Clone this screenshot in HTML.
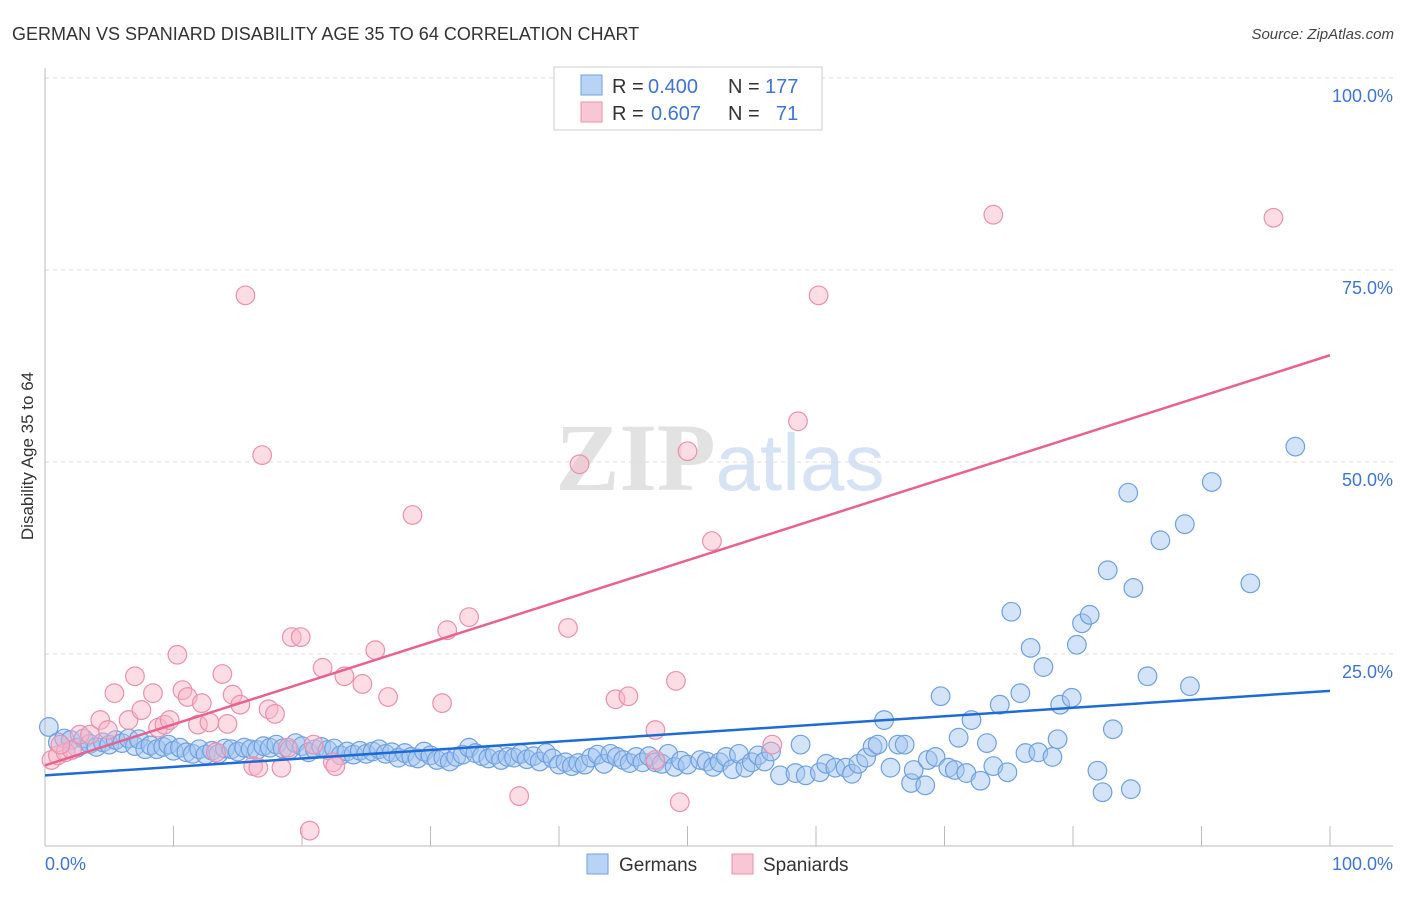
<!DOCTYPE html>
<html><head><meta charset="utf-8"><style>
body{margin:0;background:#fff;font-family:"Liberation Sans",sans-serif;}
</style></head><body>
<svg id="chart" width="1406" height="892" xmlns="http://www.w3.org/2000/svg">
<text x="12" y="40" font-size="18" fill="#333" font-family="Liberation Sans, sans-serif">GERMAN VS SPANIARD DISABILITY AGE 35 TO 64 CORRELATION CHART</text>
<text x="1394" y="39" font-size="15" fill="#444" text-anchor="end" font-style="italic" font-family="Liberation Sans, sans-serif">Source: ZipAtlas.com</text>
<text x="720" y="490" font-size="96" text-anchor="middle" font-family="Liberation Serif, serif"><tspan fill="#e2e2e2" font-weight="bold">ZIP</tspan><tspan fill="#d5e3f5" font-family="Liberation Sans, sans-serif" font-size="80">atlas</tspan></text>
<g id="grid"></g>
<g id="axes"></g>
<g id="pts"></g>
<g id="lines"></g>
<text transform="translate(33,456) rotate(-90)" font-size="17" fill="#333" text-anchor="middle" font-family="Liberation Sans, sans-serif">Disability Age 35 to 64</text>
<g font-size="20" font-family="Liberation Sans, sans-serif">
<rect x="554" y="67" width="268" height="63" fill="#fff" stroke="#ccc"/>
<rect x="581" y="75" width="21" height="20" fill="#b9d3f5" stroke="#6fa0e0"/>
<rect x="581" y="102" width="21" height="20" fill="#f9c6d5" stroke="#eb90ad"/>
<text x="612" y="93" fill="#333">R =</text>
<text x="648" y="93" fill="#3f74d0">0.400</text>
<text x="728" y="93" fill="#333">N =</text>
<text x="765" y="93" fill="#3f74d0">177</text>
<text x="612" y="120" fill="#333">R =</text>
<text x="651" y="120" fill="#3f74d0">0.607</text>
<text x="728" y="120" fill="#333">N =</text>
<text x="776" y="120" fill="#3f74d0">71</text>
</g>
<g>
<rect x="587" y="854" width="21" height="20" fill="#b9d3f5" stroke="#6fa0e0"/>
<text x="619" y="871" font-size="19" fill="#333">Germans</text>
<rect x="732" y="854" width="21" height="20" fill="#f9c6d5" stroke="#eb90ad"/>
<text x="763" y="871" font-size="19" fill="#333">Spaniards</text>
</g>
</svg>
<script>
const yTicks=[100,75,50,25];
const xTickLabels=["0.0%","100.0%"];
const germX=[0.3,1,1.5,2,2.5,3,3.5,4,4.5,5,5.5,6,6.5,7,7.3,7.8,8.2,8.7,9.2,9.6,10,10.5,11,11.5,12,12.5,13,13.5,14,14.5,15,15.5,16,16.5,17,17.5,18,18.5,19,19.5,20,20.5,21,21.5,22,22.5,23,23.5,24,24.5,25,25.5,26,26.5,27,27.5,28,28.5,29,29.5,30,30.5,31,31.5,32,32.5,33,33.5,34,34.5,35,35.5,36,36.5,37,37.5,38,38.5,39,39.5,40,40.5,41,41.5,42,42.5,43,43.5,44,44.5,45,45.5,46,46.5,47,47.5,48,48.5,49,49.5,50,51,51.5,52,52.5,53,53.5,54,54.5,55,55.5,56,56.5,57.2,58.4,58.8,59.2,60.3,60.8,61.5,62.3,62.8,63.3,63.9,64.4,64.8,65.3,65.8,66.4,66.9,67.4,67.6,68.5,68.7,69.3,69.7,70.3,70.8,71.1,71.7,72.1,72.8,73.3,73.8,74.3,74.9,75.2,75.9,76.3,76.7,77.3,77.7,78.4,78.8,79.0,79.9,80.3,80.7,81.3,81.9,82.3,82.7,83.1,84.3,84.5,84.7,85.8,86.8,88.7,89.1,90.8,93.8,97.3];
const germY=[15.5,13.5,14.0,13.8,12.8,14.0,13.3,12.9,13.5,13.2,13.8,13.4,14.0,13.0,13.9,12.6,13.1,12.6,12.9,13.2,12.4,12.8,12.2,12.0,12.6,11.9,12.4,12.0,12.7,12.6,12.3,12.8,12.6,12.5,13.0,12.8,13.2,12.7,12.5,13.4,13.0,12.2,12.6,12.9,12.5,12.7,11.8,12.3,11.9,12.4,12.0,12.3,12.6,12.0,12.2,11.5,12.1,11.6,11.4,12.3,11.8,11.2,11.5,11.0,11.6,11.9,12.8,12.1,11.7,11.4,11.9,11.2,11.6,11.5,12.0,11.3,11.7,11.0,12.1,11.4,10.6,10.9,10.4,10.8,10.6,11.5,11.9,10.7,12.0,11.6,11.2,10.8,11.6,10.9,11.7,10.9,10.7,12.0,10.3,11.1,10.6,11.2,11.0,10.3,10.9,11.6,10.0,12.0,10.2,10.9,11.8,11.0,12.3,9.2,9.5,13.2,9.2,9.6,10.7,10.2,10.2,9.4,10.7,11.5,12.9,13.2,16.4,10.2,13.2,13.2,8.2,9.9,7.9,11.2,11.6,19.5,10.2,9.9,14.1,9.5,16.4,8.5,13.4,10.4,18.4,9.6,30.5,19.9,12.1,25.8,12.2,23.3,11.6,13.9,18.4,19.3,26.2,29.0,30.1,9.8,7.0,35.9,15.2,46.0,7.4,33.6,22.1,39.8,41.9,20.8,47.4,34.2,52.0];
const spanX=[0.5,1.0,1.6,2.1,1.2,2.7,3.5,4.3,4.9,5.4,6.5,7.0,7.5,8.4,8.8,9.3,9.7,10.3,10.7,11.1,11.9,12.2,12.8,13.3,13.8,14.2,14.6,15.2,15.6,16.2,16.6,16.9,17.4,17.9,18.4,18.9,19.2,19.9,20.6,20.9,21.6,22.4,22.6,23.3,24.7,25.7,26.7,28.6,30.9,31.3,33.0,36.9,40.7,41.6,44.4,45.4,47.5,47.5,49.1,49.4,50.0,51.9,56.6,58.6,60.2,73.8,95.6];
const spanY=[11.2,11.8,12.2,12.5,13.2,14.5,14.5,16.4,15.1,19.9,16.4,22.1,17.7,19.9,15.4,15.8,16.4,24.9,20.3,19.4,15.8,18.6,16.1,12.2,22.4,15.9,19.7,18.4,71.7,10.4,10.2,50.9,17.8,17.2,10.2,12.8,27.2,27.2,2.0,13.2,23.2,10.9,10.4,22.1,21.1,25.5,19.4,43.1,18.6,28.1,29.8,6.5,28.4,49.7,19.1,19.5,15.1,11.2,21.5,5.7,51.4,39.7,13.2,55.3,71.7,82.2,81.8];
const germTrend=[9.2,20.2];
const spanTrend=[10.5,63.9];
const NS="http://www.w3.org/2000/svg";
const X0=45,X1=1330,Y0=846,Y1=78;
const sx=v=>X0+(X1-X0)*v/100;
const sy=v=>Y0-(Y0-Y1)*v/100;
function mk(tag,attrs,parent){const e=document.createElementNS(NS,tag);for(const k in attrs)e.setAttribute(k,attrs[k]);document.getElementById(parent).appendChild(e);return e;}
yTicks.forEach(t=>{
  const l=mk('line',{x1:X0,x2:1393,y1:sy(t),y2:sy(t),stroke:'#ddd','stroke-dasharray':'4,4'},'grid');
  
  
  const tx=mk('text',{x:1393,y:sy(t)+24,'font-size':18,fill:'#3f74d0','text-anchor':'end','font-family':'Liberation Sans, sans-serif'},'grid');
  tx.textContent=t.toFixed(1)+'%';
  
  
});
const ax=mk('line',{x1:X0,x2:X0,y1:68,y2:Y0,stroke:'#bbb'},'axes');


const bx=mk('line',{x1:X0,x2:1393,y1:Y0,y2:Y0,stroke:'#bbb'},'axes');


for(let i=0;i<=10;i++){
  const t=mk('line',{x1:sx(i*10),x2:sx(i*10),y1:826,y2:Y0,stroke:'#bbb'},'axes');
  
  
}
[[0,'start',45],[100,'end',1393]].forEach((p,i)=>{
  const t=mk('text',{x:p[2],y:870,'font-size':18,fill:'#3f74d0','text-anchor':p[1],'font-family':'Liberation Sans, sans-serif'},'axes');
  t.textContent=xTickLabels[i];
  
  
});
germX.forEach((x,i)=>{
  const c=mk('circle',{cx:sx(x),cy:sy(germY[i]),r:9.3,fill:'rgba(160,196,240,0.45)',stroke:'#6fa0e0','stroke-width':1.2},'pts');
  
  
});
spanX.forEach((x,i)=>{
  const c=mk('circle',{cx:sx(x),cy:sy(spanY[i]),r:9.3,fill:'rgba(248,180,200,0.45)',stroke:'#eb90ad','stroke-width':1.2},'pts');
  
  
});
const gl=mk('line',{x1:sx(0),y1:sy(germTrend[0]),x2:sx(100),y2:sy(germTrend[1]),stroke:'#1f6bd6','stroke-width':2.5},'lines');


const sl=mk('line',{x1:sx(0),y1:sy(spanTrend[0]),x2:sx(100),y2:sy(spanTrend[1]),stroke:'#e8628f','stroke-width':2.5},'lines');


</script>
</body></html>
